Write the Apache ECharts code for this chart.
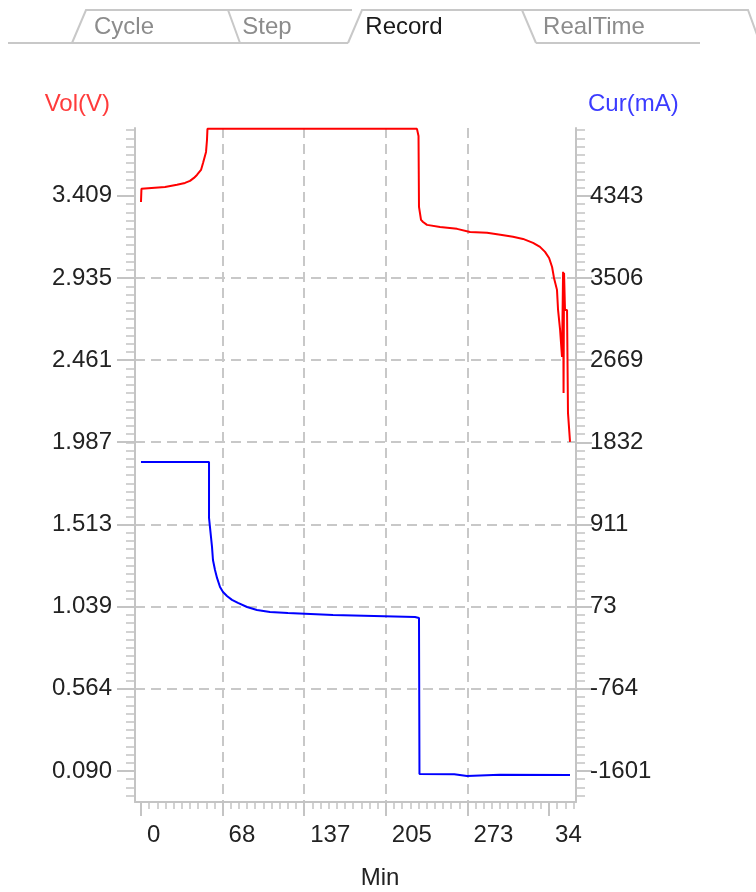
<!DOCTYPE html>
<html>
<head>
<meta charset="utf-8">
<script src="https://cdn.jsdelivr.net/npm/echarts@6/dist/echarts.min.js"></script>
<style>
  html, body { margin: 0; padding: 0; background: #fff; }
  #chart { width: 756px; height: 892px; }
</style>
</head>
<body>
<div id="chart"></div>
<script>
// time axis (Min): tick values and printed labels (last one is cut off in the original)
var xTicks = [0, 68.25, 136.5, 204.75, 273, 341.25];
var xTickLabels = ['0', '68', '137', '205', '273', '34'];
// voltage axis (left)
var volTicks = [0.090, 0.564, 1.039, 1.513, 1.987, 2.461, 2.935, 3.409];
// current axis (right): tick values and the labels printed next to them
var curTicks = [-1601, -764, 73, 910, 1747, 2584, 3421, 4258];
var curTickLabels = ['-1601', '-764', '73', '911', '1832', '2669', '3506', '4343'];

// voltage record
var volT = [0, 0.4, 20.1, 30.1, 36.8, 41.0, 44.3, 46.8, 50.2, 51.9, 54.4, 55.2, 55.6,
            230.8, 232.1, 232.5, 234.2, 235.9, 239.2, 250.1, 264.3, 275.2, 289.4, 301.9,
            311.1, 319.5, 327.9, 333.7, 337.9, 341.3, 343.8, 345.4, 347.9, 348.8, 350.5,
            352.1, 353.0, 353.4, 353.8, 354.6, 356.3, 357.1, 358.8];
var volV = [3.373, 3.449, 3.460, 3.472, 3.483, 3.495, 3.512, 3.529, 3.558, 3.598, 3.662, 3.731, 3.795,
            3.795, 3.754, 3.345, 3.270, 3.258, 3.241, 3.229, 3.218, 3.200, 3.195, 3.183,
            3.172, 3.160, 3.137, 3.114, 3.085, 3.050, 2.998, 2.935, 2.866, 2.750, 2.635,
            2.479, 2.970, 2.271, 2.964, 2.750, 2.750, 2.156, 1.989];

// current record
var curT = [0, 56.9, 56.9, 58.5, 59.4, 60.2, 61.9, 63.6, 66.1, 68.6, 71.9, 76.1, 81.1,
            88.7, 97.0, 107.9, 122.9, 160.6, 229.2, 232.5, 232.9, 262.0, 272.7, 273.5, 300.0, 358.8];
var curA = [1548, 1548, 977, 977, 682, 549, 447, 366, 274, 223, 182, 142, 111,
            70, 40, 19, 9, -11, -32, -42, -1632, -1634, -1652, -1636, -1640, -1642];

// axis extents
var X_MIN = -5.0, X_MAX = 363.8;
var V_MIN = -0.089, V_MAX = 3.800;
var A_PER_V = 837 / 0.474;
var A_MIN = -1601 + (V_MIN - 0.090) * A_PER_V;
var A_MAX = -1601 + (V_MAX - 0.090) * A_PER_V;

function minorList(start, step, lo, hi) {
  var out = [];
  for (var k = Math.ceil((lo - start) / step); start + k * step <= hi + 1e-9; k++) {
    out.push(+(start + k * step).toFixed(4));
  }
  return out;
}
function labelFor(ticks, labels) {
  return function (v) {
    var best = 0;
    for (var i = 1; i < ticks.length; i++) {
      if (Math.abs(ticks[i] - v) < Math.abs(ticks[best] - v)) best = i;
    }
    return labels[best];
  };
}
function pairs(xs, ys) {
  return xs.map(function (x, i) { return [x, ys[i]]; });
}

var xMinor = minorList(0, 6.825, X_MIN, X_MAX);
var volMinor = minorList(0.090, 0.0474, V_MIN, V_MAX);
var curMinor = minorList(-1601, 83.7, A_MIN, A_MAX);

var gray = '#c4c4c4';
var font = 'Liberation Sans, Arial, sans-serif';
var lbl = { fontFamily: font, fontSize: 24, color: '#222' };
var tabGray = '#c8c8c8';

function minorAxis(pos, min, max, ticks, len) {
  return {
    type: 'value', position: pos, min: min, max: max,
    axisLine: { show: false, onZero: false },
    axisLabel: { show: false },
    splitLine: { show: false },
    axisTick: { show: true, customValues: ticks, length: len, lineStyle: { color: gray, width: 1.5 } }
  };
}

var chart = echarts.init(document.getElementById('chart'), null, { renderer: 'canvas' });
chart.setOption({
  animation: false,
  backgroundColor: '#fff',
  grid: { left: 135, right: 180, top: 128, bottom: 90, containLabel: false, outerBoundsMode: 'none' },
  xAxis: [
    {
      type: 'value', position: 'bottom', min: X_MIN, max: X_MAX,
      name: 'Min', nameLocation: 'middle', nameGap: 64,
      nameTextStyle: { fontFamily: font, fontSize: 24, color: '#222', verticalAlign: 'top', padding: [0, 0, 0, 49] },
      axisLine: { show: true, onZero: false, lineStyle: { color: gray, width: 2 } },
      axisTick: { show: true, customValues: xTicks, length: 14, lineStyle: { color: gray, width: 2 } },
      axisLabel: Object.assign({ customValues: xTicks, formatter: labelFor(xTicks, xTickLabels),
        margin: 21, align: 'left', padding: [0, 0, 0, 6] }, lbl),
      splitLine: { show: true, showMinLine: false, showMaxLine: false,
        lineStyle: { color: '#c8c8c8', type: [10, 6], width: 2 } }
    },
    minorAxis('bottom', X_MIN, X_MAX, xMinor, 7)
  ],
  yAxis: [
    {
      type: 'value', position: 'left', min: V_MIN, max: V_MAX,
      name: 'Vol(V)', nameLocation: 'end', nameGap: 24,
      nameTextStyle: { fontFamily: font, fontSize: 24, color: '#ff3b3b', align: 'right', verticalAlign: 'middle', padding: [0, 25, 0, 0] },
      axisLine: { show: true, onZero: false, lineStyle: { color: gray, width: 2 } },
      axisTick: { show: true, customValues: volTicks, length: 18, lineStyle: { color: gray, width: 2 } },
      axisLabel: Object.assign({ customValues: volTicks, formatter: function (v) { return v.toFixed(3); },
        margin: 23, padding: [6, 0, 0, 0] }, lbl),
      splitLine: { show: true, showMinLine: false, showMaxLine: false,
        lineStyle: { color: '#c8c8c8', type: [10, 6], width: 2 } }
    },
    {
      type: 'value', position: 'right', min: A_MIN, max: A_MAX,
      name: 'Cur(mA)', nameLocation: 'end', nameGap: 24,
      nameTextStyle: { fontFamily: font, fontSize: 24, color: '#3c3cff', align: 'left', verticalAlign: 'middle', padding: [0, 0, 0, 12] },
      axisLine: { show: true, onZero: false, lineStyle: { color: gray, width: 2 } },
      axisTick: { show: true, customValues: curTicks, length: 16, lineStyle: { color: gray, width: 2 } },
      axisLabel: Object.assign({ customValues: curTicks, formatter: labelFor(curTicks, curTickLabels),
        margin: 14, padding: [6, 0, 0, 0] }, lbl),
      splitLine: { show: false }
    },
    minorAxis('left', V_MIN, V_MAX, volMinor, 9),
    minorAxis('right', A_MIN, A_MAX, curMinor, 9)
  ],
  series: [
    {
      name: 'Vol', type: 'line', xAxisIndex: 0, yAxisIndex: 0,
      data: pairs(volT, volV), showSymbol: false, clip: true,
      lineStyle: { color: '#ff0000', width: 2 }, itemStyle: { color: '#ff0000' }
    },
    {
      name: 'Cur', type: 'line', xAxisIndex: 0, yAxisIndex: 1,
      data: pairs(curT, curA), showSymbol: false, clip: true,
      lineStyle: { color: '#0000ff', width: 2 }, itemStyle: { color: '#0000ff' }
    }
  ],
  graphic: [
    { type: 'polyline', shape: { points: [[8, 43], [348, 43]] }, style: { stroke: tabGray, lineWidth: 2, fill: null } },
    { type: 'polyline', shape: { points: [[536, 43], [700, 43]] }, style: { stroke: tabGray, lineWidth: 2, fill: null } },
    { type: 'polyline', shape: { points: [[72, 43], [86, 10], [228, 10], [240, 43]] }, style: { stroke: tabGray, lineWidth: 2, fill: null } },
    { type: 'polyline', shape: { points: [[228, 10], [352, 10]] }, style: { stroke: tabGray, lineWidth: 2, fill: null } },
    { type: 'polyline', shape: { points: [[348, 43], [362, 10], [522, 10], [536, 43]] }, style: { stroke: tabGray, lineWidth: 2, fill: null } },
    { type: 'polyline', shape: { points: [[522, 10], [748, 10], [760, 43]] }, style: { stroke: tabGray, lineWidth: 2, fill: null } },
    { type: 'text', style: { text: 'Cycle', x: 124, y: 27, font: '24px ' + font, fill: '#8c8c8c', textAlign: 'center', textVerticalAlign: 'middle', align: 'center', verticalAlign: 'middle' } },
    { type: 'text', style: { text: 'Step', x: 267, y: 27, font: '24px ' + font, fill: '#8c8c8c', textAlign: 'center', textVerticalAlign: 'middle', align: 'center', verticalAlign: 'middle' } },
    { type: 'text', style: { text: 'Record', x: 404, y: 27, font: '24px ' + font, fill: '#1a1a1a', textAlign: 'center', textVerticalAlign: 'middle', align: 'center', verticalAlign: 'middle' } },
    { type: 'text', style: { text: 'RealTime', x: 594, y: 27, font: '24px ' + font, fill: '#8c8c8c', textAlign: 'center', textVerticalAlign: 'middle', align: 'center', verticalAlign: 'middle' } }
  ]
});
</script>
</body>
</html>
